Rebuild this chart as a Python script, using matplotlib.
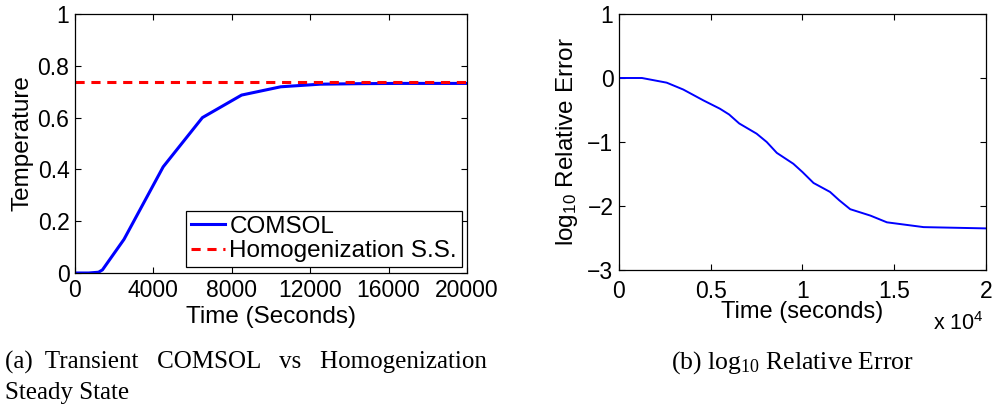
import numpy as np
import matplotlib.pyplot as plt

plt.rcParams['font.family'] = ['Liberation Sans', 'DejaVu Sans']
plt.rcParams['mathtext.default'] = 'regular'

# panel (a): transient COMSOL temperature vs steady state
t_comsol = [0, 700, 1200, 1400, 2500, 4500, 6500, 8500, 10500, 12500, 14500, 16500, 18500, 20000]
temp_comsol = [0, 0, 0.003, 0.012, 0.13, 0.41, 0.60, 0.687, 0.719, 0.729, 0.731, 0.732, 0.732, 0.732]
temp_ss = 0.738

# panel (b): log10 relative error
t_err = [0, 1250, 2600, 3500, 4600, 5500, 6000, 6550, 7500, 8050, 8600, 9500, 10000,
         10600, 11500, 12000, 12600, 13700, 14600, 16600, 20000]
log_err = [0, 0, -0.073, -0.18, -0.35, -0.48, -0.57, -0.71, -0.87, -1.0, -1.17, -1.34, -1.47,
           -1.64, -1.78, -1.91, -2.05, -2.15, -2.255, -2.33, -2.35]

W, H = 995, 408
fig = plt.figure(figsize=(W / 100, H / 100), dpi=100)


def px_axes(x0, y0, x1, y1):
    return fig.add_axes([x0 / W, (H - y1) / H, (x1 - x0) / W, (y1 - y0) / H])


def matlab_style(ax):
    ax.tick_params(direction='in', top=True, right=True, length=4, width=0.8,
                   labelsize=16.5, pad=4)
    for s in ax.spines.values():
        s.set_linewidth(0.9)


# left panel
ax1 = px_axes(75, 14, 467, 273)
ax1.plot(t_comsol, temp_comsol, color='#0000ff', lw=2.2, label='COMSOL')
ax1.plot([0, 20000], [temp_ss, temp_ss], color='#ff0000', lw=2.2, ls=(0, (3, 2.2)),
         label='Homogenization S.S.')
ax1.set_xlim(0, 20000)
ax1.set_ylim(0, 1)
ax1.set_xticks(range(0, 20001, 4000))
ax1.set_yticks([0, 0.2, 0.4, 0.6, 0.8, 1])
ax1.set_yticklabels(['0', '0.2', '0.4', '0.6', '0.8', '1'])
matlab_style(ax1)
ax1.set_xlabel('Time (Seconds)', fontsize=17.5, labelpad=3)
ax1.set_ylabel('Temperature', fontsize=17.5, labelpad=3)
leg = ax1.legend(loc='lower right', bbox_to_anchor=(0.987, 0.023), borderaxespad=0,
                 fontsize=17.5, fancybox=False, edgecolor='black', framealpha=1,
                 handlelength=1.4, handletextpad=0.2, borderpad=0.2, labelspacing=0.1)
leg.get_frame().set_linewidth(0.9)

# right panel
ax2 = px_axes(619, 14, 986, 270)
ax2.plot(t_err, log_err, color='#0000ff', lw=1.4)
ax2.set_xlim(0, 20000)
ax2.set_ylim(-3, 1)
ax2.set_xticks([0, 5000, 10000, 15000, 20000])
ax2.set_xticklabels(['0', '0.5', '1', '1.5', '2'])
ax2.set_yticks([-3, -2, -1, 0, 1])
ax2.set_yticklabels(['\u22123', '\u22122', '\u22121', '0', '1'])
matlab_style(ax2)
ax2.tick_params(axis='x', pad=7)
ax2.set_xlabel('Time (seconds)', fontsize=17, labelpad=-1)
ax2.set_ylabel('log$_{10}$ Relative Error', fontsize=17.5, labelpad=5)
fig.text(933 / W, 1 - 330 / H, 'x 10$^4$', fontsize=15.5, ha='left', va='baseline')

# captions
cap = dict(family=['Liberation Serif', 'DejaVu Serif'], fontsize=18)
fig.text(5 / W, 1 - 369 / H, '(a)  Transient   COMSOL   vs   Homogenization', ha='left',
         va='baseline', **cap)
fig.text(5 / W, 1 - 399 / H, 'Steady State', ha='left', va='baseline', **cap)
fig.text(792 / W, 1 - 369 / H, '(b) log$_{10}$ Relative Error', ha='center', va='baseline',
         family=['Liberation Serif', 'DejaVu Serif'], fontsize=18.5)

fig.savefig('out.png', dpi=100)
